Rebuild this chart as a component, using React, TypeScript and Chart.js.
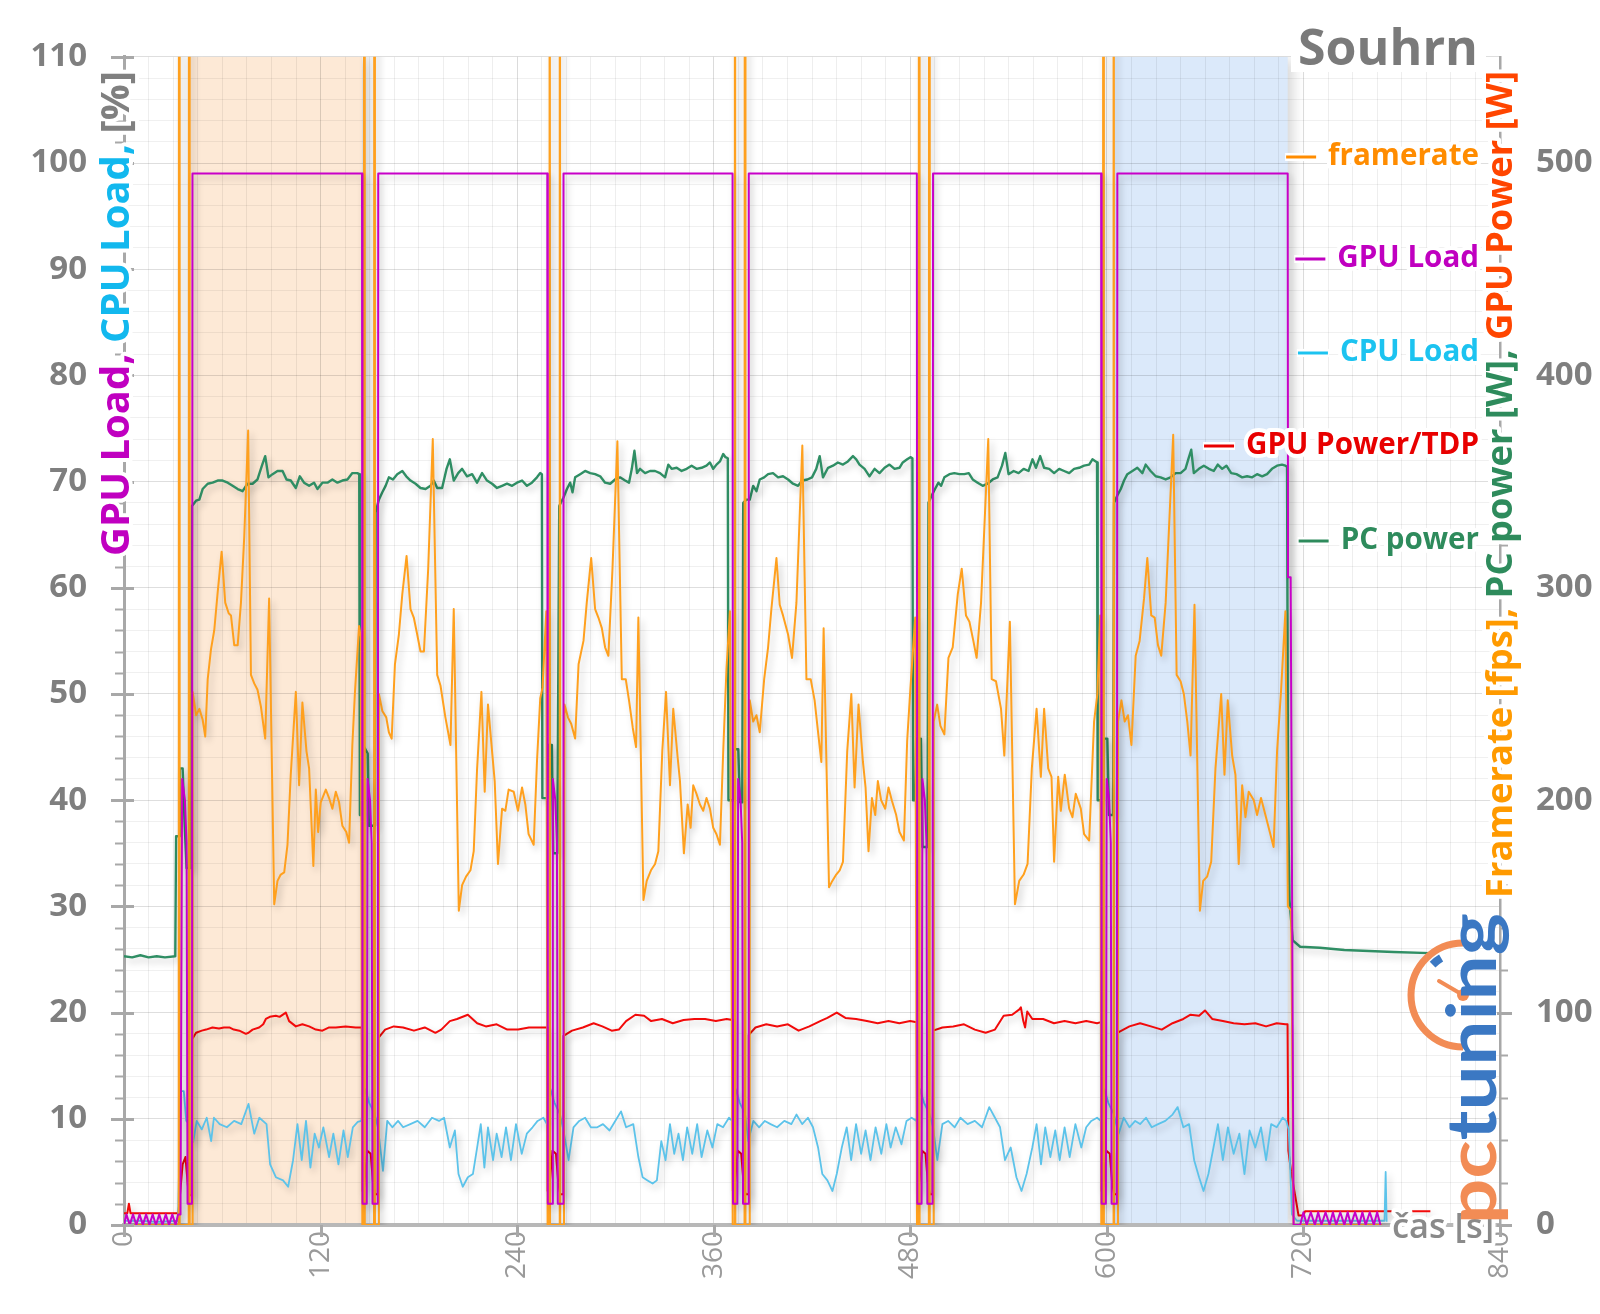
import { useEffect, useRef } from "react";
import { Chart, registerables } from "chart.js";

Chart.register(...registerables);

type P = [number, number];

// ---------- tick labels / names ----------
const xTickLabels = [0, 120, 240, 360, 480, 600, 720, 840];
const leftTickLabels = [0, 10, 20, 30, 40, 50, 60, 70, 80, 90, 100, 110];
const rightTickLabels = [0, 100, 200, 300, 400, 500];
const seriesNames = ["framerate", "GPU Load", "CPU Load", "GPU Power/TDP", "PC power"];

// highlighted runs (seconds)
const orangeRun: P = [39.8, 145.3];
const blueRun: P = [604.1, 710.4];

// ---------- series: [time s, value] ----------
const framerateFps: P[] = [
  [0, 0], [33.4, 0], [33.7, 1500], [34.0, 0], [39.5, 0], [39.8, 1500], [40.1, 0], [41.6, 0],
  [41.9, 251], [44.0, 240], [46.0, 243], [48.0, 238], [49.6, 230], [51.1, 257], [53.1, 271], [55.1, 280], [57.2, 298], [59.6, 317], [61.8, 293], [63.9, 288], [65.3, 287], [67.3, 273], [69.4, 273], [71.4, 293], [73.4, 324], [75.8, 374], [77.5, 259], [79.5, 255], [81.5, 252], [83.6, 244], [86.2, 229], [88.6, 295], [91.7, 151], [93.7, 162], [95.7, 165], [97.8, 166], [99.8, 179], [101.8, 212], [104.9, 251], [106.9, 207], [108.9, 246], [111.4, 223], [113.0, 215], [115.6, 169], [117.1, 205], [118.5, 185], [120.1, 199], [123.2, 205], [125.2, 201], [127.2, 196], [129.3, 204], [131.3, 199], [133.3, 188], [135.7, 185], [137.4, 180], [139.4, 226], [141.0, 251], [143.5, 282], [144.5, 277],
  [145.5, 0], [146.4, 0], [146.7, 1500], [147.0, 0], [152.6, 0], [152.9, 1500], [153.2, 0], [155.3, 0],
  [155.6, 250], [157.7, 242], [160.1, 239], [161.7, 232], [163.4, 229], [165.4, 264], [167.8, 278], [169.9, 297], [172.5, 315], [174.9, 290], [176.9, 286], [179.0, 278], [181.0, 270], [183.1, 270], [185.7, 309], [188.5, 370], [191.2, 259], [193.2, 254], [196.2, 239], [199.3, 226], [201.3, 290], [204.4, 148], [206.4, 160], [208.8, 164], [211.5, 167], [213.5, 176], [215.5, 214], [218.2, 251], [220.2, 204], [222.2, 245], [224.7, 223], [226.3, 209], [228.3, 170], [230.8, 196], [232.8, 195], [234.8, 205], [237.9, 204], [240.5, 195], [243.0, 206], [245.0, 198], [247.0, 184], [250.1, 179], [252.1, 218], [254.1, 248], [255.5, 253], [257.8, 289],
  [258.6, 0], [259.5, 0], [259.8, 1500], [260.1, 0], [265.7, 0], [266.0, 1500], [266.3, 0], [268.6, 0],
  [268.9, 245], [271.0, 239], [273.0, 236], [275.4, 229], [277.5, 264], [280.5, 275], [282.5, 293], [285.2, 314], [287.6, 290], [289.6, 286], [291.7, 281], [293.7, 272], [295.7, 268], [298.2, 309], [301.2, 369], [303.9, 257], [306.3, 257], [308.3, 247], [310.6, 234], [312.6, 225], [314.0, 286], [317.1, 153], [319.1, 162], [321.7, 167], [324.2, 170], [326.2, 176], [328.6, 223], [330.9, 251], [333.3, 207], [335.3, 243], [338.0, 220], [339.4, 209], [341.8, 175], [344.1, 198], [345.9, 187], [347.5, 207], [349.5, 203], [351.6, 198], [353.6, 195], [355.6, 201], [357.7, 196], [359.7, 187], [361.7, 184], [363.8, 179], [365.8, 223], [367.8, 262], [369.9, 289],
  [371.6, 0], [372.6, 0], [372.9, 1500], [373.2, 0], [378.8, 0], [379.1, 1500], [379.4, 0], [381.7, 0],
  [382.0, 247], [384.1, 237], [386.1, 240], [388.1, 232], [390.8, 257], [393.2, 272], [395.2, 290], [398.3, 314], [400.3, 292], [402.3, 287], [405.4, 278], [407.8, 267], [410.5, 293], [414.1, 367], [416.6, 257], [419.2, 257], [421.6, 247], [423.7, 232], [425.7, 218], [427.1, 281], [430.4, 159], [432.4, 162], [434.8, 165], [436.9, 167], [438.9, 171], [441.5, 223], [444.0, 250], [446.0, 206], [448.4, 245], [451.1, 218], [452.7, 206], [454.5, 176], [456.6, 201], [458.6, 193], [460.2, 209], [462.2, 200], [464.7, 196], [466.7, 206], [468.7, 200], [471.4, 193], [473.4, 185], [476.1, 181], [478.1, 228], [480.1, 253], [483.0, 286],
  [484.1, 0], [485.1, 0], [485.4, 1500], [485.7, 0], [491.3, 0], [491.6, 1500], [491.9, 0], [494.0, 0],
  [494.3, 237], [496.4, 245], [498.4, 235], [500.8, 231], [503.3, 267], [505.9, 272], [509.0, 297], [511.4, 309], [514.0, 287], [516.1, 284], [518.5, 275], [520.5, 267], [523.2, 293], [527.6, 370], [529.7, 257], [532.3, 256], [535.4, 243], [537.4, 221], [540.8, 284], [543.9, 151], [546.5, 162], [549.2, 165], [551.6, 170], [554.2, 215], [557.1, 243], [559.7, 211], [561.7, 243], [564.2, 215], [566.2, 211], [567.8, 171], [570.3, 211], [571.9, 195], [574.3, 212], [577.0, 196], [579.0, 192], [581.0, 203], [584.1, 196], [586.1, 184], [589.2, 181], [592.2, 237], [594.2, 250], [595.9, 287],
  [596.6, 0], [597.6, 0], [597.9, 1500], [598.2, 0], [603.8, 0], [604.1, 1500], [604.4, 0], [606.5, 0],
  [606.8, 237], [608.9, 247], [610.9, 237], [612.9, 240], [615.0, 226], [617.6, 268], [620.0, 275], [622.7, 295], [624.7, 314], [627.1, 287], [629.2, 286], [631.2, 273], [633.2, 268], [635.9, 293], [640.5, 372], [642.6, 259], [645.0, 256], [647.0, 250], [649.1, 237], [651.1, 221], [653.5, 292], [656.8, 148], [658.8, 162], [661.2, 164], [663.7, 171], [666.3, 215], [669.8, 250], [671.8, 212], [673.8, 247], [676.5, 221], [678.5, 212], [680.5, 170], [682.6, 207], [684.6, 192], [686.6, 204], [689.7, 200], [691.7, 193], [694.1, 201], [696.8, 193], [698.8, 187], [701.8, 178], [703.9, 223], [706.3, 251], [709.0, 289],
  [710.5, 150], [712.5, 148], [714, 0], [768, 0],
];

const gpuLoadPct: P[] = [
  [0, 0], [1.5, 1], [3.5, 0], [5.5, 1], [7.5, 0], [9.5, 1], [11.5, 0], [13.5, 1], [15.5, 0], [17.5, 1], [19.5, 0], [21.5, 1], [23.5, 0], [25.5, 1], [27.5, 0], [29.5, 1], [31.5, 0], [33.0, 1], [34.5, 1], [35.5, 42], [37.2, 40], [38.2, 36], [38.8, 2], [41.5, 2], [41.8, 99],
  [145.3, 99], [145.6, 2], [148.2, 2], [148.7, 42], [150.2, 40], [151.2, 36], [151.7, 2], [154.9, 2], [155.2, 99],
  [258.4, 99], [258.7, 2], [261.3, 2], [261.8, 42], [263.3, 40], [264.3, 36], [264.8, 2], [268.0, 2], [268.3, 99],
  [371.5, 99], [371.8, 2], [374.4, 2], [374.9, 42], [376.4, 40], [377.4, 36], [377.9, 2], [381.1, 2], [381.4, 99],
  [484.0, 99], [484.3, 2], [486.9, 2], [487.4, 42], [488.9, 40], [489.9, 36], [490.4, 2], [493.6, 2], [493.9, 99],
  [596.5, 99], [596.8, 2], [599.4, 2], [599.9, 42], [601.4, 40], [602.4, 36], [602.9, 2], [606.1, 2], [606.4, 99],
  [710.4, 99], [710.6, 61], [712.2, 61], [714, 0], [718, 0], [720, 1.2], [722, 0], [724.5, 1.2], [727, 0], [729, 1.2], [731, 0], [733.5, 1.2], [736, 0], [738, 1.2], [740, 0], [742.5, 1.2], [745, 0], [747, 1.2], [749, 0], [751.5, 1.2], [754, 0], [756, 1.2], [758, 0], [760.5, 1.2], [763, 0], [765, 1.2], [767, 0],
];

const cpuLoadPct: P[] = [
  [0, 0.4], [10, 0.4], [20, 0.3], [33, 0.4], [34.5, 12.6], [36.5, 12.6], [38, 9.8], [40.0, 9.5],
  [42.2, 7.8], [44.4, 9.8], [47.5, 9.0], [50.5, 10.1], [53.2, 7.9], [54.9, 10.1], [58.4, 9.5], [62.8, 9.2], [67.2, 9.8], [71.6, 9.5], [76.0, 11.4], [79.5, 8.6], [82.6, 10.1], [87.0, 9.5], [89.2, 5.7], [92.7, 4.5], [97.1, 4.2], [100.2, 3.6], [103.2, 6.1], [105.9, 9.5], [108.5, 6.1], [111.1, 9.8], [113.8, 5.4], [116.4, 8.6], [119.0, 7.3], [121.7, 9.2], [125.2, 6.4], [127.8, 8.6], [130.9, 5.7], [134.0, 8.9], [136.6, 6.4], [139.7, 9.2], [142.7, 9.7], [144.9, 9.8],
  [146.0, 11], [147.2, 12.8], [149.7, 11.5], [152.9, 10.5],
  [155.0, 9.2], [158.1, 5.1], [160.7, 9.8], [163.8, 9.2], [167.3, 9.8], [170.4, 9.2], [174.8, 9.5], [179.2, 9.8], [183.6, 9.2], [188.0, 10.1], [192.3, 9.8], [195.4, 10.1], [198.9, 7.3], [202.0, 8.9], [204.2, 4.8], [206.8, 3.6], [209.9, 4.5], [213.0, 4.8], [215.6, 7.3], [217.8, 9.5], [220.0, 5.4], [222.2, 9.2], [225.3, 6.1], [227.5, 8.6], [230.5, 6.4], [233.2, 9.2], [236.2, 6.1], [239.3, 9.5], [242.8, 6.7], [245.9, 8.6], [249.4, 9.2], [252.5, 9.8], [256.0, 10.1], [258.2, 9.5],
  [259.1, 11], [260.3, 12.8], [262.8, 11.5], [266.0, 10.5],
  [268.3, 8.9], [271.4, 6.1], [274.4, 9.2], [277.9, 9.8], [281.5, 10.1], [285.0, 9.2], [288.9, 9.2], [292.4, 9.5], [296.4, 8.9], [299.9, 9.8], [303.4, 10.7], [306.5, 9.2], [310.9, 9.5], [314.0, 6.4], [316.6, 4.5], [319.6, 4.2], [322.7, 3.9], [325.3, 4.2], [328.0, 7.9], [330.6, 6.1], [333.3, 9.5], [335.9, 6.7], [338.5, 8.6], [341.2, 6.1], [343.8, 9.2], [346.9, 6.7], [349.9, 9.5], [352.6, 6.4], [356.1, 8.9], [359.2, 7.3], [362.2, 9.5], [365.7, 9.2], [369.3, 10.1], [371.3, 9.8],
  [372.2, 11], [373.4, 12.8], [375.9, 11.5], [379.1, 10.5],
  [381.1, 7.9], [384.2, 9.8], [387.7, 9.2], [391.2, 9.8], [394.7, 9.5], [398.7, 9.2], [403.1, 9.8], [407.4, 9.5], [410.5, 10.4], [414.0, 9.5], [417.5, 10.1], [420.6, 9.2], [423.7, 7.3], [426.3, 4.8], [429.4, 4.2], [432.5, 3.2], [435.1, 4.8], [438.2, 7.3], [441.2, 9.2], [443.9, 6.1], [446.9, 9.5], [450.0, 6.7], [452.7, 8.9], [455.7, 6.1], [458.8, 9.2], [462.3, 6.7], [465.4, 9.5], [468.0, 7.3], [471.1, 9.2], [474.6, 7.6], [477.7, 9.8], [480.8, 10.1], [483.8, 9.8],
  [484.7, 11], [485.9, 12.8], [488.4, 11.5], [491.6, 10.5],
  [493.9, 9.2], [496.5, 6.1], [499.6, 9.5], [503.1, 9.8], [507.1, 9.2], [510.6, 10.1], [515.0, 9.5], [519.4, 9.8], [523.8, 9.2], [528.2, 11.1], [531.7, 10.1], [534.8, 9.2], [537.8, 6.1], [541.3, 7.3], [544.8, 4.5], [547.9, 3.2], [551.0, 4.8], [554.5, 7.3], [557.1, 9.5], [559.8, 5.7], [562.4, 9.2], [565.5, 6.4], [568.5, 8.9], [571.2, 6.1], [574.2, 9.2], [577.3, 6.4], [580.8, 9.5], [584.4, 7.3], [587.4, 9.2], [590.5, 9.8], [594.0, 10.1], [596.3, 9.8],
  [597.2, 11], [598.4, 12.8], [600.9, 11.5], [604.1, 10.5],
  [607.2, 8.6], [610.3, 10.1], [613.8, 9.2], [617.3, 9.8], [620.3, 9.5], [623.9, 10.1], [627.4, 9.2], [631.3, 9.5], [635.7, 9.8], [640.1, 10.4], [643.2, 11.1], [646.7, 9.2], [650.2, 9.5], [653.3, 6.1], [656.3, 4.5], [659.0, 3.2], [662.0, 4.8], [665.1, 7.3], [667.8, 9.5], [670.8, 6.1], [673.9, 9.2], [677.4, 6.7], [680.9, 8.6], [684.0, 4.8], [687.1, 8.9], [690.6, 7.3], [694.1, 9.2], [697.2, 6.1], [700.3, 9.5], [703.7, 9.2], [707.3, 10.1], [709.5, 9.8],
  [711, 9], [713, 1], [716, 0.4], [740, 0.4], [769.5, 0.4], [770.2, 5], [770.8, 0.3],
];

const gpuPowerW: P[] = [
  [0, 5.5], [2, 5.5], [3, 10], [4, 5.5], [33.2, 5.5], [35.8, 28.5], [37.5, 32], [39.5, 14], [41.2, 14], [41.6, 87.5],
  [44, 90.5], [47.5, 91.5], [50.1, 92], [54, 93], [58, 92.5], [61, 93], [64.3, 93], [67, 92], [70.4, 91.5], [74.4, 90], [76, 90.5], [78.5, 92], [82.5, 93], [85, 94.5], [86.6, 97], [89, 98], [92.7, 98.5], [95, 98], [98.8, 100], [100.8, 96], [104.9, 93.5], [108.9, 94.5], [113, 93.5], [117.1, 92], [121.1, 91.5], [125.2, 93], [129.3, 93], [135.3, 93.5], [141.4, 93], [145.2, 93],
  [145.5, 16], [146.6, 18], [148.5, 35], [150.6, 33.5], [152, 20], [153.2, 14.5], [154.9, 14.5], [155.2, 88],
  [159.4, 92], [164.7, 93.5], [170.4, 93], [177.0, 91.5], [183.6, 93], [190.1, 90.5], [193.7, 92], [198.9, 96], [203.3, 97], [209.9, 99], [215.6, 95], [220.9, 93.5], [227.5, 94.5], [234.0, 92], [240.6, 92], [247.2, 93], [256.0, 93], [258.3, 93],
  [258.6, 16], [259.7, 18], [261.6, 35], [263.7, 33.5], [265.1, 20], [266.3, 14.5], [268.0, 14.5], [268.3, 89],
  [273.5, 91.5], [280.1, 93], [286.7, 95], [292.0, 93.5], [297.7, 91.5], [302.1, 92], [306.5, 96], [312.2, 99], [317.5, 98.5], [321.8, 96], [328.4, 97], [335.0, 95], [341.6, 96.5], [348.2, 97], [354.7, 97], [361.3, 96], [367.9, 97], [371.4, 96.5],
  [371.7, 16], [372.8, 18], [374.7, 35], [376.8, 33.5], [378.2, 20], [379.4, 14.5], [381.1, 14.5], [381.4, 89.5],
  [385.5, 93], [392.1, 94.5], [398.7, 93.5], [405.3, 94.5], [411.8, 91.5], [418.4, 93.5], [425.0, 96], [429.4, 97.5], [435.1, 100], [440.4, 97.5], [446.9, 97], [453.5, 96], [460.1, 95], [466.7, 96], [473.3, 95], [479.9, 96], [483.9, 95.5],
  [484.2, 16], [485.3, 18], [487.2, 35], [489.3, 33.5], [490.7, 20], [491.9, 14.5], [493.6, 14.5], [493.9, 91.5],
  [499.6, 93], [506.2, 93.5], [512.8, 94.5], [519.4, 92], [526.0, 90.5], [531.7, 92], [537.0, 98.5], [542.2, 99], [546.6, 101.5], [547.5, 102.5], [549, 96], [550.1, 93], [551.4, 100.5], [554.5, 97], [561.1, 97], [567.7, 95], [574.2, 96], [580.8, 95], [587.4, 96], [594.0, 95], [596.4, 95.5],
  [596.7, 16], [597.8, 18], [599.7, 35], [601.8, 33.5], [603.2, 20], [604.4, 14.5], [606.1, 14.5], [606.4, 90.5],
  [613.8, 93.5], [620.3, 95], [626.9, 93.5], [633.5, 92], [640.1, 95], [646.7, 97], [651.1, 99], [656.3, 98.5], [659.9, 101], [664.3, 97], [670.8, 96], [677.4, 95], [684.0, 94.5], [690.6, 95], [697.2, 93.5], [703.7, 95], [709.0, 94.5], [710.3, 94.5],
  [710.8, 35], [712.5, 25], [717, 4.5], [720, 4.5], [721, 6.5], [797.5, 6.5],
];

const pcPowerW: P[] = [
  [0, 126.5], [5, 126], [10, 127], [15, 126], [20, 126.5], [25, 126], [31.3, 126.5], [31.8, 183], [33.6, 183], [34.1, 215], [35.8, 215], [36.9, 191], [38.2, 168], [40.8, 168], [41.5, 338.5],
  [44.0, 341], [46.0, 341.5], [48.0, 346.5], [51.1, 349], [54.1, 349.5], [57.2, 350.5], [60.2, 350.5], [63.3, 349.5], [66.3, 348], [69.4, 346.5], [72.4, 345.5], [75.4, 349], [78.5, 349], [81.5, 351], [84.2, 357.5], [86.2, 362], [88.2, 352], [90.7, 353.5], [93.7, 355], [96.8, 355], [99.2, 351], [101.8, 350.5], [104.9, 347], [107.3, 352.5], [109.9, 349.5], [113.0, 348], [116.0, 349.5], [118.1, 346.5], [121.1, 349.5], [124.2, 349.5], [127.2, 351], [130.3, 349.5], [133.3, 350.5], [136.4, 351], [139.4, 354], [142.4, 354], [143.6, 353.5],
  [144.0, 193], [146.0, 193], [146.6, 225], [148.8, 222], [149.5, 188], [153.2, 188], [153.6, 335.5],
  [155.6, 341.5], [157.7, 345], [159.7, 348], [161.7, 352], [164.2, 351], [166.8, 353.5], [169.9, 355], [172.3, 352.5], [174.9, 350.5], [178.0, 349], [181.0, 347], [184.1, 346.5], [187.1, 348], [189.1, 350.5], [191.2, 347], [194.2, 347], [196.9, 356], [198.9, 360.5], [201.3, 350.5], [204.0, 354], [206.4, 356], [209.4, 352.5], [212.5, 353.5], [215.5, 349.5], [218.6, 354], [221.6, 350.5], [224.7, 349], [227.7, 347], [230.8, 348], [233.8, 349], [236.9, 348], [239.9, 349.5], [243.0, 350.5], [246.0, 348], [249.0, 349.5], [252.1, 352], [254.1, 354], [255.1, 353.5],
  [255.4, 201], [258.5, 201], [259.0, 226], [261.2, 226], [262.0, 175], [264.5, 175], [265.7, 338.5],
  [268.3, 342.5], [270.4, 346.5], [272.4, 349.5], [273.8, 345], [275.4, 352], [278.5, 353.5], [281.5, 355], [284.6, 354], [287.6, 353.5], [290.7, 352.5], [293.7, 349.5], [296.8, 349], [299.8, 351], [302.8, 352], [305.9, 350.5], [308.3, 349.5], [310.0, 356], [311.6, 364.5], [313.2, 354], [315.0, 356], [318.1, 354], [321.1, 355], [324.2, 355], [327.2, 354], [330.3, 352], [332.3, 358], [334.3, 356], [337.4, 356.5], [340.4, 355], [343.5, 356], [346.5, 357.5], [349.5, 356], [352.6, 356.5], [355.6, 357.5], [357.7, 359], [359.7, 356], [361.7, 358], [363.8, 359.5], [365.8, 363], [367.2, 361.5], [368.6, 361],
  [369.0, 200], [372.0, 200], [372.9, 224], [375.0, 224], [376.0, 199], [377.4, 199], [378.0, 340],
  [380.0, 341.5], [382.0, 341.5], [384.1, 348], [386.1, 345.5], [388.1, 351], [390.8, 352], [393.2, 353.5], [396.2, 354], [399.3, 352], [402.3, 352.5], [405.4, 351], [408.4, 349], [411.5, 348], [414.1, 350.5], [417.2, 351], [420.0, 352], [422.6, 356], [424.7, 362], [426.7, 352], [429.8, 356.5], [432.8, 357.5], [435.8, 359], [438.9, 358], [441.9, 359.5], [445.0, 362], [447.0, 360.5], [449.0, 358], [452.1, 356], [455.1, 352.5], [458.2, 356], [461.2, 354], [464.3, 356.5], [467.3, 358], [470.4, 356], [473.4, 356.5], [475.4, 359], [478.1, 360.5], [480.1, 361.5], [481.3, 361],
  [481.7, 200], [483.0, 200], [483.6, 229], [486.5, 229], [487.5, 178], [490.5, 178], [491.1, 340],
  [493.1, 343.5], [495.1, 346.5], [497.2, 349.5], [498.8, 348], [500.8, 352], [503.9, 353.5], [506.9, 354], [510.0, 353.5], [513.0, 353.5], [515.7, 354], [518.1, 351], [521.1, 349.5], [524.2, 348], [527.2, 349], [530.3, 351], [533.3, 352], [536.0, 357.5], [538.0, 363.5], [540.0, 353.5], [543.1, 355], [546.1, 354], [549.2, 356], [552.2, 355], [554.6, 360.5], [556.7, 356.5], [559.3, 362], [561.7, 356.5], [564.8, 356], [567.8, 354], [570.9, 356], [573.9, 355], [577.0, 354], [580.0, 356], [583.1, 356.5], [586.1, 357.5], [589.2, 358], [591.2, 360.5], [593.2, 359.5], [594.0, 359],
  [594.4, 200], [597.8, 200], [598.3, 229], [600.3, 229], [601.3, 193], [603.8, 193], [604.4, 340],
  [606.4, 343.5], [608.5, 346.5], [610.5, 350.5], [612.5, 353.5], [615.6, 355], [618.6, 356.5], [621.7, 354], [623.7, 358], [626.7, 355], [629.8, 352.5], [632.8, 352], [635.9, 351], [638.9, 352], [642.0, 354], [645.0, 354], [648.0, 356], [649.7, 360.5], [651.5, 365], [653.1, 354], [656.2, 356], [659.2, 357.5], [662.3, 356], [665.3, 355], [667.7, 358], [670.4, 356], [673.0, 357.5], [675.9, 354], [679.1, 353.5], [682.6, 352], [685.6, 352.5], [688.7, 352], [691.7, 353.5], [694.8, 352.5], [697.8, 353.5], [700.8, 356], [703.9, 357.5], [706.9, 358], [709.0, 357.5], [710.0, 357],
  [710.6, 200], [711.5, 153], [713.5, 134], [718, 131], [730, 130.5], [745, 129.5], [760, 129], [775, 128.5], [797, 128],
];

// ---------- drawing helpers ----------
const FAMILY = '"Open Sans", "DejaVu Sans", sans-serif';

function fitSize(ctx: CanvasRenderingContext2D, text: string, weight: string, family: string, target: number) {
  ctx.font = `${weight} 100px ${family}`;
  return (100 * target) / ctx.measureText(text).width;
}

function drawSegs(
  ctx: CanvasRenderingContext2D,
  segs: [string, string][],
  font: string,
  ox: number,
  oy: number,
  angle: number,
  anchor: "start" | "end",
  halo: number,
  baseline: CanvasTextBaseline = "middle",
  stretchTo = 0
) {
  ctx.save();
  ctx.translate(ox, oy);
  ctx.rotate(angle);
  ctx.font = font;
  ctx.textBaseline = baseline;
  ctx.textAlign = "left";
  const widths = segs.map((s) => ctx.measureText(s[0]).width);
  const total = widths.reduce((a, b) => a + b, 0);
  if (stretchTo > 0) ctx.scale(stretchTo / total, 1);
  let x = anchor === "end" ? -total : 0;
  const xs = widths.map((w) => {
    const p = x;
    x += w;
    return p;
  });
  if (halo > 0) {
    ctx.strokeStyle = "#ffffff";
    ctx.lineWidth = halo;
    ctx.lineJoin = "round";
    segs.forEach((s, i) => ctx.strokeText(s[0], xs[i], 0));
  }
  segs.forEach((s, i) => {
    ctx.fillStyle = s[1];
    ctx.fillText(s[0], xs[i], 0);
  });
  ctx.restore();
  return anchor === "end" ? ox - total : ox;
}

const overlayPlugin = {
  id: "overlay",
  beforeDraw(chart: any) {
    const { ctx, chartArea: a, scales } = chart;
    const x = scales.x;
    ctx.save();
    ctx.beginPath();
    ctx.rect(a.left, a.top, a.right - a.left, a.bottom - a.top);
    ctx.clip();
    ctx.shadowColor = "rgba(0,0,0,0.16)";
    ctx.shadowBlur = 12;
    ctx.shadowOffsetX = 5;
    ctx.shadowOffsetY = 3;
    const bands: [P, string][] = [
      [orangeRun, "#fde9d6"],
      [blueRun, "#dbe9fa"],
    ];
    for (const [r, c] of bands) {
      const x0 = x.getPixelForValue(r[0]);
      const x1 = x.getPixelForValue(r[1]);
      ctx.fillStyle = c;
      ctx.fillRect(x0, a.top, x1 - x0, a.bottom - a.top);
    }
    ctx.restore();
  },
  beforeDatasetDraw(chart: any) {
    const ctx = chart.ctx;
    ctx.shadowColor = "rgba(0,0,0,0.22)";
    ctx.shadowBlur = 7;
    ctx.shadowOffsetX = 3;
    ctx.shadowOffsetY = 4;
  },
  afterDatasetDraw(chart: any) {
    const ctx = chart.ctx;
    ctx.shadowColor = "rgba(0,0,0,0)";
    ctx.shadowBlur = 0;
    ctx.shadowOffsetX = 0;
    ctx.shadowOffsetY = 0;
  },
  afterDraw(chart: any) {
    const { ctx, chartArea: a, scales } = chart;
    const yL = scales.y;
    const yR = scales.y2;
    const x = scales.x;
    ctx.save();
    ctx.lineCap = "butt";
    for (let v = 0; v <= 110; v += 2) {
      const py = Math.round(yL.getPixelForValue(v)) + 0.5;
      const major = leftTickLabels.includes(v);
      ctx.strokeStyle = "#a8a8a8";
      ctx.lineWidth = major ? 3 : 2;
      ctx.beginPath();
      ctx.moveTo(major ? a.left - 13 : a.left - 9, py);
      ctx.lineTo(major ? a.left + 10 : a.left, py);
      ctx.stroke();
    }
    for (let v = 0; v <= 540; v += 20) {
      const py = Math.round(yR.getPixelForValue(v)) + 0.5;
      const major = rightTickLabels.includes(v);
      ctx.strokeStyle = "#a8a8a8";
      ctx.lineWidth = major ? 3 : 2;
      ctx.beginPath();
      ctx.moveTo(major ? a.right - 3 : a.right, py);
      ctx.lineTo(major ? a.right + 12 : a.right + 8, py);
      ctx.stroke();
    }
    for (const v of xTickLabels) {
      const px = Math.round(x.getPixelForValue(v)) + 0.5;
      ctx.strokeStyle = "#a8a8a8";
      ctx.lineWidth = 3;
      ctx.beginPath();
      ctx.moveTo(px, a.bottom);
      ctx.lineTo(px, a.bottom + 12);
      ctx.stroke();
    }
    ctx.restore();

    ctx.save();
    ctx.fillStyle = "#ffffff";
    ctx.fillRect(1291, 0, 195, 72);
    ctx.restore();
    const tSize = fitSize(ctx, "Souhrn", "bold", FAMILY, 180);
    drawSegs(ctx, [["Souhrn", "#7a7a7a"]], `bold ${tSize}px ${FAMILY}`, 1478, 65, 0, "end", 0, "alphabetic");

    const leftSegs: [string, string][] = [
      ["GPU Load, ", "#c000c0"],
      ["CPU Load, ", "#12b8ee"],
      ["[%]", "#808080"],
    ];
    const lSize = fitSize(ctx, leftSegs.map((s) => s[0]).join(""), "bold", FAMILY, 485);
    drawSegs(ctx, leftSegs, `bold ${lSize}px ${FAMILY}`, 117.5, 556, -Math.PI / 2, "start", 8);

    const rightSegs: [string, string][] = [
      ["Framerate [fps], ", "#ff9a00"],
      ["PC power [W], ", "#2e8b5c"],
      ["GPU Power [W]", "#ff4500"],
    ];
    const rSize = fitSize(ctx, rightSegs.map((s) => s[0]).join(""), "bold", FAMILY, 827);
    drawSegs(ctx, rightSegs, `bold ${rSize}px ${FAMILY}`, 1502, 898, -Math.PI / 2, "start", 8);

    const legendColors = ["#ff8c00", "#c000c0", "#1cc3f0", "#e80000", "#2e8b5c"];
    const legendY = [157, 259, 353, 446, 541];
    const gSize = fitSize(ctx, seriesNames[3], "bold", FAMILY, 233);
    seriesNames.forEach((name, i) => {
      const start = drawSegs(ctx, [[name, legendColors[i]]], `bold ${gSize}px ${FAMILY}`, 1479, legendY[i], 0, "end", 8);
      ctx.save();
      ctx.strokeStyle = "#ffffff";
      ctx.lineWidth = 8;
      ctx.beginPath();
      ctx.moveTo(start - 43, legendY[i]);
      ctx.lineTo(start - 11, legendY[i]);
      ctx.stroke();
      ctx.strokeStyle = legendColors[i];
      ctx.lineWidth = 3;
      ctx.beginPath();
      ctx.moveTo(start - 42, legendY[i]);
      ctx.lineTo(start - 12, legendY[i]);
      ctx.stroke();
      ctx.restore();
    });

    const cSize = fitSize(ctx, "čas [s]", "600", FAMILY, 102);
    drawSegs(ctx, [["čas [s]", "#8a8a8a"]], `600 ${cSize}px ${FAMILY}`, 1494, 1228, 0, "end", 8);

    // logo
    ctx.save();
    const cx = 1463;
    const cy = 995;
    ctx.strokeStyle = "#f28c55";
    ctx.lineWidth = 7;
    ctx.beginPath();
    ctx.arc(cx, cy, 52, Math.PI * 0.5, Math.PI * 1.5, false);
    ctx.stroke();
    ctx.strokeStyle = "#3b78c3";
    ctx.lineWidth = 8;
    ctx.beginPath();
    ctx.arc(cx, cy, 43, Math.PI * 1.25, Math.PI * 1.33, false);
    ctx.stroke();
    ctx.strokeStyle = "#f28c55";
    ctx.lineWidth = 4;
    ctx.lineCap = "round";
    ctx.beginPath();
    ctx.moveTo(cx, cy);
    ctx.lineTo(cx - 24, cy - 14);
    ctx.stroke();
    ctx.fillStyle = "#f28c55";
    ctx.beginPath();
    ctx.arc(cx, cy, 6, 0, Math.PI * 2);
    ctx.fill();
    ctx.restore();
    const logoFam = 'Lato, "Open Sans", sans-serif';
    drawSegs(
      ctx,
      [
        ["pc", "#f28c55"],
        ["tuning", "#3b78c3"],
      ],
      `bold 68px ${logoFam}`,
      1496,
      1224,
      -Math.PI / 2,
      "start",
      0,
      "alphabetic",
      311
    );
  },
};

export default function App() {
  const ref = useRef<HTMLCanvasElement>(null);
  useEffect(() => {
    const canvas = ref.current;
    if (!canvas) return;
    const toXY = (arr: P[]) => arr.map(([x, y]) => ({ x, y }));
    const tickFont = { family: FAMILY, size: 33, weight: "bold" as const };
    const chart = new Chart(canvas, {
      type: "line",
      data: {
        datasets: [
          { label: seriesNames[1], data: toXY(gpuLoadPct), yAxisID: "y", borderColor: "#c800c8", borderWidth: 2 },
          { label: seriesNames[0], data: toXY(framerateFps), yAxisID: "y2", borderColor: "#ffa01e", borderWidth: 2 },
          { label: seriesNames[2], data: toXY(cpuLoadPct), yAxisID: "y", borderColor: "#5cc3ea", borderWidth: 1.8 },
          { label: seriesNames[3], data: toXY(gpuPowerW), yAxisID: "y2", borderColor: "#f20a0a", borderWidth: 2 },
          { label: seriesNames[4], data: toXY(pcPowerW), yAxisID: "y2", borderColor: "#2f8e64", borderWidth: 2.4 },
        ],
      },
      options: {
        responsive: false,
        animation: false,
        devicePixelRatio: 1,
        layout: { padding: { top: 53, left: 0, right: 0, bottom: 0 } },
        elements: { point: { radius: 0 }, line: { tension: 0, borderJoinStyle: "round" } },
        plugins: { legend: { display: false }, tooltip: { enabled: false }, title: { display: false } },
        scales: {
          x: {
            type: "linear",
            min: 0,
            max: 840,
            ticks: {
              stepSize: 15,
              autoSkip: false,
              minRotation: 90,
              maxRotation: 90,
              padding: 6,
              color: "#9a9a9a",
              font: { family: FAMILY, size: 28, weight: "normal" },
              callback: (v: any) => (xTickLabels.includes(Number(v)) ? String(v) : ""),
            },
            grid: {
              drawTicks: false,
              color: (c: any) => (xTickLabels.includes(c.tick?.value) ? "rgba(0,0,0,0.14)" : "rgba(0,0,0,0.065)"),
            },
            border: { display: true, color: "#b8b8b8", width: 4 },
            afterFit: (s: any) => {
              s.height = 89;
            },
          },
          y: {
            type: "linear",
            position: "left",
            min: 0,
            max: 110,
            ticks: {
              stepSize: 2,
              autoSkip: false,
              padding: 37,
              color: "#7f7f7f",
              font: tickFont,
              callback: (v: any) => (leftTickLabels.includes(Number(v)) ? String(v) : ""),
            },
            grid: {
              drawTicks: false,
              color: (c: any) => (leftTickLabels.includes(c.tick?.value) ? "rgba(0,0,0,0.13)" : "rgba(0,0,0,0.06)"),
            },
            border: { display: true, color: "#a8a8a8", width: 3 },
            afterFit: (s: any) => {
              s.width = 124;
            },
          },
          y2: {
            type: "linear",
            position: "right",
            min: 0,
            max: 550,
            ticks: {
              stepSize: 20,
              autoSkip: false,
              padding: 36,
              color: "#7f7f7f",
              font: tickFont,
              callback: (v: any) => (rightTickLabels.includes(Number(v)) ? String(v) : ""),
            },
            grid: { drawOnChartArea: false, drawTicks: false },
            border: { display: true, color: "#a8a8a8", width: 2.5 },
            afterFit: (s: any) => {
              s.width = 100;
            },
          },
        },
      } as any,
      plugins: [overlayPlugin],
    });
    return () => chart.destroy();
  }, []);
  return (
    <div style={{ position: "fixed", left: 0, top: 0, width: 1600, height: 1314, background: "#ffffff" }}>
      <canvas ref={ref} width={1600} height={1314} style={{ display: "block", width: 1600, height: 1314 }} />
    </div>
  );
}
